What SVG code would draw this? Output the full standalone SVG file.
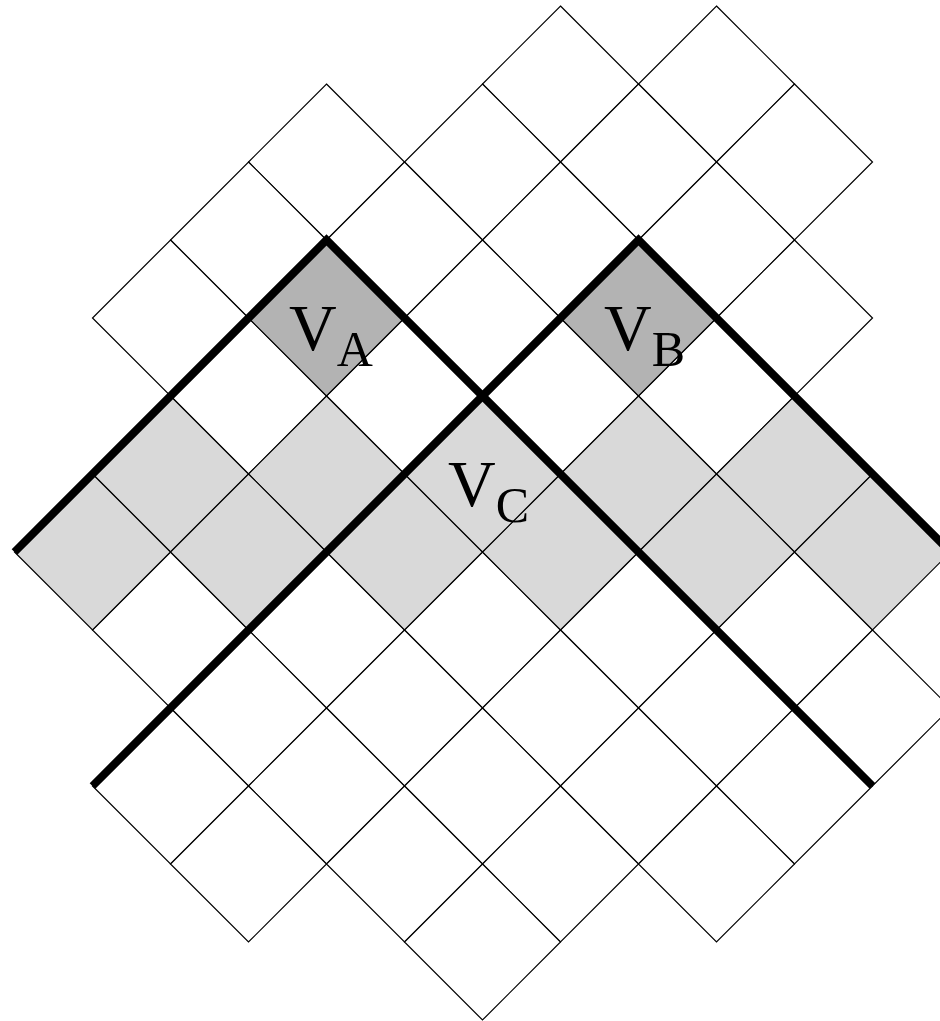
<svg xmlns="http://www.w3.org/2000/svg" width="940" height="1021" viewBox="0 0 940 1021">
<style>
.w{fill:#ffffff;stroke:#000;stroke-width:1.2}
.l{fill:#d9d9d9;stroke:#000;stroke-width:1.2}
.d{fill:#b3b3b3;stroke:#000;stroke-width:1.2}
.thick{fill:none;stroke:#000;stroke-width:8;stroke-linejoin:miter;stroke-linecap:butt}
.t{font-family:"Liberation Serif","Times New Roman",serif;fill:#000;font-size:66px}
.sub{font-size:50px}
</style>
<defs>
<path id="c" d="M0,-78 L78,0 L0,78 L-78,0 Z"/>
</defs>
<rect width="940" height="1021" fill="#fff"/>
<g id="white-cells">
<use href="#c" class="w" x="560.5" y="84"/>
<use href="#c" class="w" x="716.5" y="84"/>
<use href="#c" class="w" x="326.5" y="162"/>
<use href="#c" class="w" x="482.5" y="162"/>
<use href="#c" class="w" x="638.5" y="162"/>
<use href="#c" class="w" x="794.5" y="162"/>
<use href="#c" class="w" x="248.5" y="240"/>
<use href="#c" class="w" x="404.5" y="240"/>
<use href="#c" class="w" x="560.5" y="240"/>
<use href="#c" class="w" x="716.5" y="240"/>
<use href="#c" class="w" x="170.5" y="318"/>
<use href="#c" class="w" x="482.5" y="318"/>
<use href="#c" class="w" x="794.5" y="318"/>
<use href="#c" class="w" x="248.5" y="396"/>
<use href="#c" class="w" x="404.5" y="396"/>
<use href="#c" class="w" x="560.5" y="396"/>
<use href="#c" class="w" x="716.5" y="396"/>
<use href="#c" class="w" x="170.5" y="630"/>
<use href="#c" class="w" x="326.5" y="630"/>
<use href="#c" class="w" x="482.5" y="630"/>
<use href="#c" class="w" x="638.5" y="630"/>
<use href="#c" class="w" x="794.5" y="630"/>
<use href="#c" class="w" x="248.5" y="708"/>
<use href="#c" class="w" x="404.5" y="708"/>
<use href="#c" class="w" x="560.5" y="708"/>
<use href="#c" class="w" x="716.5" y="708"/>
<use href="#c" class="w" x="872.5" y="708"/>
<use href="#c" class="w" x="170.5" y="786"/>
<use href="#c" class="w" x="326.5" y="786"/>
<use href="#c" class="w" x="482.5" y="786"/>
<use href="#c" class="w" x="638.5" y="786"/>
<use href="#c" class="w" x="794.5" y="786"/>
<use href="#c" class="w" x="248.5" y="864"/>
<use href="#c" class="w" x="404.5" y="864"/>
<use href="#c" class="w" x="560.5" y="864"/>
<use href="#c" class="w" x="716.5" y="864"/>
<use href="#c" class="w" x="482.5" y="942"/>
</g>
<g id="light-cells">
<use href="#c" class="l" x="170.5" y="474"/>
<use href="#c" class="l" x="326.5" y="474"/>
<use href="#c" class="l" x="638.5" y="474"/>
<use href="#c" class="l" x="794.5" y="474"/>
<use href="#c" class="l" x="92.5" y="552"/>
<use href="#c" class="l" x="248.5" y="552"/>
<use href="#c" class="l" x="404.5" y="552"/>
<use href="#c" class="l" x="560.5" y="552"/>
<use href="#c" class="l" x="716.5" y="552"/>
<use href="#c" class="l" x="872.5" y="552"/>
</g>
<g id="VC">
<use href="#c" class="l" x="482.5" y="474"/>
</g>
<g id="VA">
<use href="#c" class="d" x="326.5" y="318"/>
</g>
<g id="VB">
<use href="#c" class="d" x="638.5" y="318"/>
</g>
<g id="connectors">
<polyline class="thick" points="14.5,552 326.5,240 872.5,786"/>
<polyline class="thick" points="92.5,786 638.5,240 950.5,552"/>
</g>
<g id="labels">
<text class="t" x="289" y="350">V<tspan class="sub" dy="16">A</tspan></text>
<text class="t" x="604" y="350">V<tspan class="sub" dy="16">B</tspan></text>
<text class="t" x="448" y="506">V<tspan class="sub" dy="16">C</tspan></text>
</g>
</svg>
